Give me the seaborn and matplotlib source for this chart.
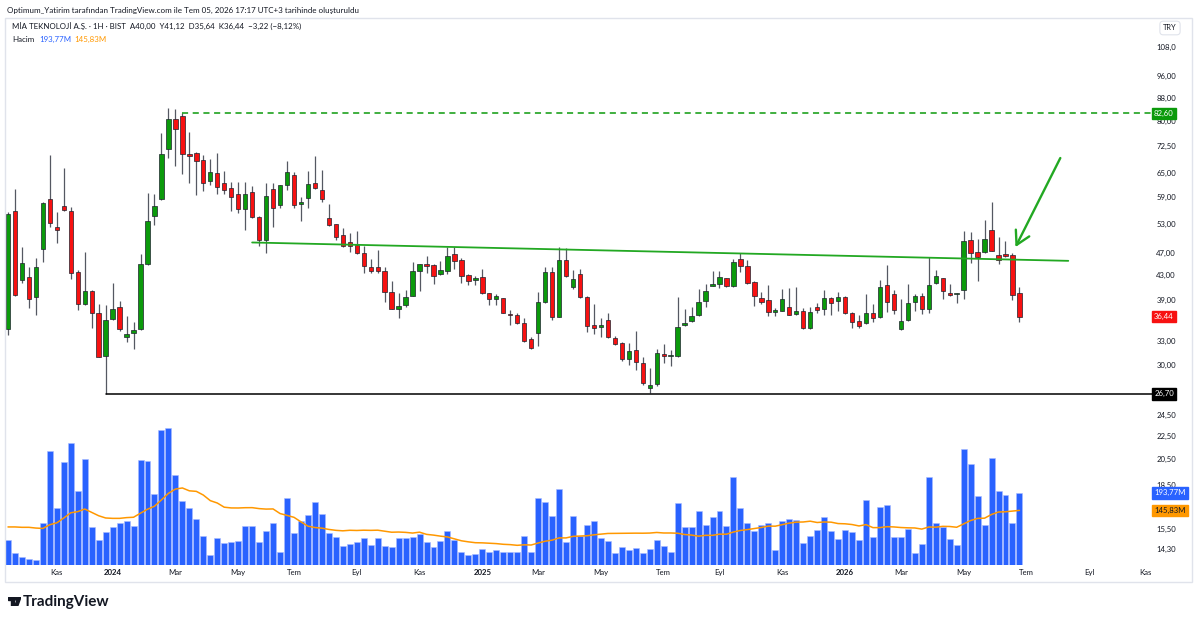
import numpy as np
import pandas as pd
import seaborn as sns
import matplotlib
matplotlib.use('Agg')
from matplotlib import pyplot as plt
import matplotlib.dates as mdates
import matplotlib.transforms as mtransforms
from matplotlib.ticker import NullLocator
from matplotlib.patches import FancyBboxPatch, Polygon, Circle

# weekly candles, MIA Teknoloji (BIST), from 2023-09-18
open_ = [34.70, 55.75, 42.22, 42.68, 39.37, 47.89, 58.43, 52.21, 56.88, 55.81,
         43.60, 38.28, 40.39, 37.01, 31.08, 36.04, 37.82, 33.56, 34.06, 34.66,
         45.08, 54.70, 58.57, 71.48, 80.85, 81.73, 70.22, 70.33, 68.46, 62.83,
         64.88, 62.48, 61.08, 59.69, 56.20, 60.10, 54.48, 49.66, 60.91, 57.04,
         61.83, 64.36, 57.27, 58.81, 62.33, 60.66, 54.19, 52.84, 50.61, 49.26,
         48.61, 47.13, 44.55, 44.45, 43.77, 40.23, 37.61, 38.12, 39.63, 43.77,
         44.98, 44.85, 43.20, 43.83, 46.88, 45.71, 43.08, 42.22, 42.79, 40.02,
         39.15, 39.21, 36.82, 36.67, 35.55, 33.24, 34.14, 38.69, 43.66, 36.42,
         45.76, 41.10, 43.25, 39.47, 35.26, 34.89, 35.94, 33.47, 32.71, 30.75,
         31.84, 30.19, 27.36, 27.74, 31.29, 31.08, 31.12, 35.18, 35.75, 36.67,
         38.84, 41.27, 41.50, 42.51, 41.21, 45.95, 44.73, 41.80, 39.31, 38.95,
         37.16, 37.31, 37.87, 36.78, 37.26, 34.84, 37.91, 37.56, 39.31, 38.79,
         39.47, 36.92, 35.75, 35.46, 36.92, 36.33, 41.38, 39.85, 34.62, 35.94,
         38.64, 39.63, 37.51, 41.66, 42.51, 39.90, 39.90, 40.55, 49.54, 47.32,
         47.32, 51.64, 46.64, 46.88, 46.69, 40.00]
high = [55.50, 60.84, 48.28, 44.55, 46.13, 57.80, 69.85, 55.59, 66.37, 56.72,
        43.90, 47.32, 40.60, 38.33, 38.17, 41.76, 38.75, 36.52, 35.65, 46.83,
        59.93, 59.62, 76.23, 84.30, 84.06, 82.60, 76.72, 70.60, 69.85, 68.66,
        70.33, 65.57, 62.73, 62.73, 62.73, 61.65, 54.70, 62.33, 62.48, 62.00,
        68.19, 65.30, 59.05, 65.57, 69.57, 65.75, 57.34, 53.00, 51.99, 50.96,
        51.43, 48.47, 45.89, 47.64, 44.44, 42.05, 40.12, 40.55, 45.45, 45.10,
        46.50, 45.00, 45.58, 48.28, 48.28, 46.19, 43.20, 42.90, 44.14, 40.10,
        39.90, 39.30, 37.41, 36.92, 36.27, 33.60, 40.28, 44.55, 44.55, 48.28,
        47.95, 43.95, 44.07, 39.60, 38.33, 36.18, 36.92, 33.69, 32.93, 32.80,
        34.38, 31.00, 29.65, 31.93, 32.62, 31.84, 39.47, 37.61, 37.91, 40.67,
        41.50, 43.77, 43.83, 42.60, 45.95, 47.01, 45.67, 42.00, 40.23, 41.38,
        37.67, 40.72, 40.83, 41.00, 37.67, 37.82, 38.53, 40.55, 39.40, 40.28,
        39.60, 37.16, 36.67, 39.90, 38.33, 42.22, 44.80, 40.55, 39.06, 41.55,
        39.90, 40.02, 46.26, 43.95, 42.60, 41.50, 40.10, 51.43, 51.29, 49.74,
        53.76, 57.73, 50.14, 49.46, 47.01, 41.12]
low = [33.83, 39.50, 41.76, 37.67, 36.67, 45.34, 52.21, 48.95, 55.70, 42.39,
       37.41, 38.10, 34.76, 30.90, 26.70, 35.90, 34.40, 32.85, 32.01, 34.50,
       44.90, 52.63, 58.30, 69.10, 66.74, 64.70, 62.48, 59.45, 60.49, 61.83,
       59.69, 59.69, 55.81, 55.37, 51.64, 54.10, 48.41, 47.13, 52.21, 56.36,
       60.66, 56.36, 53.61, 56.36, 60.90, 57.70, 52.40, 49.60, 48.30, 47.32,
       46.90, 43.37, 43.37, 43.37, 38.59, 37.50, 36.27, 37.82, 39.50, 40.39,
       43.48, 41.61, 43.00, 43.25, 44.14, 41.66, 41.38, 41.38, 39.90, 38.17,
       38.17, 36.90, 35.22, 35.40, 32.93, 31.93, 32.40, 38.50, 35.94, 36.30,
       42.70, 40.67, 39.30, 34.28, 33.92, 33.52, 33.40, 32.49, 30.50, 29.98,
       29.38, 27.70, 26.80, 27.55, 30.19, 29.90, 31.00, 35.08, 35.60, 36.50,
       37.82, 41.20, 40.83, 41.00, 41.10, 43.55, 41.50, 37.97, 38.28, 36.57,
       36.52, 37.20, 36.63, 36.70, 34.60, 34.70, 37.01, 36.67, 36.67, 37.31,
       36.80, 34.84, 34.76, 35.36, 35.69, 36.20, 37.16, 36.82, 34.50, 35.80,
       37.26, 36.82, 36.92, 41.50, 39.11, 39.60, 38.43, 39.06, 45.16, 42.10,
       47.13, 47.40, 45.03, 46.26, 38.95, 35.64]
close = [55.07, 39.74, 45.16, 39.11, 44.49, 57.57, 53.05, 51.70, 55.97, 43.48,
         38.28, 40.39, 36.92, 31.00, 35.94, 37.61, 34.62, 34.01, 34.52, 45.08,
         53.48, 56.81, 70.05, 80.85, 77.56, 70.05, 69.65, 68.10, 62.33, 65.22,
         61.48, 60.66, 59.05, 56.20, 59.62, 54.35, 49.66, 59.14, 56.36, 61.83,
         65.15, 57.11, 57.87, 62.15, 61.08, 58.43, 52.63, 50.14, 48.47, 48.41,
         47.13, 44.67, 43.83, 43.83, 40.18, 37.61, 37.97, 39.47, 43.77, 44.98,
         44.67, 42.96, 43.95, 46.50, 45.58, 42.86, 42.10, 42.61, 40.02, 39.11,
         39.53, 37.01, 36.63, 35.55, 33.06, 32.06, 38.69, 43.66, 36.42, 45.76,
         42.86, 42.39, 39.47, 35.08, 34.76, 35.26, 33.52, 32.62, 30.68, 31.71,
         30.38, 27.85, 27.66, 31.42, 31.12, 31.21, 34.98, 35.55, 36.48, 38.69,
         40.39, 41.38, 42.79, 41.27, 45.39, 44.67, 41.66, 39.53, 38.69, 37.07,
         37.26, 39.11, 36.71, 37.26, 34.76, 37.16, 37.41, 39.21, 38.53, 39.47,
         36.92, 35.69, 35.12, 36.92, 36.27, 41.00, 38.69, 37.41, 35.84, 38.43,
         39.58, 37.51, 41.33, 42.96, 40.39, 39.74, 40.02, 49.40, 47.01, 46.26,
         49.80, 47.51, 45.76, 46.56, 39.66, 36.44]
# volume in millions
volume = [68, 31, 22, 15, 13, 113, 306, 153, 275, 326,
          199, 284, 101, 67, 89, 101, 113, 117, 104, 282,
          279, 190, 363, 366, 242, 172, 153, 124, 78, 26,
          72, 59, 62, 64, 104, 104, 62, 91, 112, 36,
          179, 87, 119, 135, 170, 138, 85, 75, 52, 55,
          62, 73, 54, 73, 52, 47, 72, 73, 75, 84,
          61, 47, 64, 92, 66, 36, 28, 29, 44, 36,
          41, 36, 36, 36, 79, 36, 180, 169, 131, 205,
          61, 131, 79, 108, 117, 72, 65, 33, 49, 39,
          45, 33, 44, 68, 51, 36, 166, 101, 101, 146,
          108, 128, 144, 104, 236, 154, 112, 90, 106, 112,
          41, 117, 124, 121, 59, 79, 95, 129, 91, 71,
          95, 89, 68, 175, 75, 156, 162, 75, 75, 96,
          33, 57, 236, 112, 103, 71, 54, 311, 270, 184,
          108, 288, 199, 188, 112, 193.77]
# 20-week volume average for the first weeks (history before the window)
vol_ma_head = [102, 102, 101, 101, 99, 98, 108, 113, 126, 140,
               143, 150, 141, 132, 126, 125, 125, 127, 128]

tick_dates = ['2023-11-06', '2024-01-01', '2024-03-04', '2024-05-06', '2024-07-01',
              '2024-09-02', '2024-11-04', '2025-01-06', '2025-03-03', '2025-05-05',
              '2025-07-07', '2025-09-01', '2025-11-03', '2026-01-05', '2026-03-02',
              '2026-05-04', '2026-07-06', '2026-09-07', '2026-11-02']
tick_labels = ['Kas', '2024', 'Mar', 'May', 'Tem', 'Eyl', 'Kas', '2025', 'Mar', 'May',
               'Tem', 'Eyl', 'Kas', '2026', 'Mar', 'May', 'Tem', 'Eyl', 'Kas']
price_ticks = [108, 96, 88, 80, 72.5, 65, 59, 53, 47, 43, 39, 33, 30,
               24.5, 22.5, 20.5, 18.5, 15.5, 14.3]
price_tick_labels = ['108,0', '96,00', '88,00', '80,00', '72,50', '65,00', '59,00',
                     '53,00', '47,00', '43,00', '39,00', '33,00', '30,00', '24,50',
                     '22,50', '20,50', '18,50', '15,50', '14,30']

resistance = 82.60
support = 26.70
trend_start = ('2024-05-20', 49.1)
trend_end = ('2026-08-17', 45.6)
arrow_tail = ('2026-08-09', 69.0)
arrow_tip = ('2026-06-25', 48.2)

sns.set_theme(style='white')
plt.rcParams['font.family'] = ['Lato', 'DejaVu Sans']

GREEN = '#0b9a0b'
RED = '#f71111'
LINE_GREEN = '#22a822'
TXT = '#131722'

dates = pd.date_range('2023-09-18', periods=len(close), freq='7D')
df = pd.DataFrame({'open': open_, 'high': high, 'low': low, 'close': close,
                   'volume': volume}, index=dates)
df['ma'] = df['volume'].rolling(20).mean()
df.loc[df.index[:len(vol_ma_head)], 'ma'] = vol_ma_head

W, H = 1200, 622
fig = plt.figure(figsize=(12, 6.22), dpi=100)


def fx(px):
    return px / W


def fy(py):
    return 1 - py / H


ax = fig.add_axes([fx(5), fy(565), fx(1148) - fx(5), fy(18) - fy(565)])
ax2 = ax.twinx()
ax.set_zorder(ax2.get_zorder() + 1)
ax.patch.set_visible(False)

# volume pane (overlay)
ax2.bar(df.index, df['volume'], width=6.0, color='#2962ff', edgecolor='#a9bcff',
        linewidth=0.4, zorder=1)
sns.lineplot(x=df.index, y=df['ma'], ax=ax2, color='#ff9800', linewidth=1.1, zorder=2)
ax2.set_ylim(0, 1466)
ax2.set_yticks([])
ax2.set_ylabel('')
ax2.set_xlabel('')

# candles
ax.set_yscale('log')
up = df['close'] >= df['open']
colors = np.where(up, GREEN, RED)
body_lo = np.minimum(df['open'], df['close'])
body_h = np.maximum((df['close'] - df['open']).abs(), body_lo * 0.006)
ax.vlines(df.index, df['low'], df['high'], colors='#555862', linewidth=0.9, zorder=2)
ax.bar(df.index, body_h, bottom=body_lo, width=4.4, color=colors,
       edgecolor='#1e222d', linewidth=0.5, zorder=3)

xmin = pd.Timestamp('2023-09-15')
xmax = pd.Timestamp('2026-11-05')
ext = xmax + pd.Timedelta(days=4)

# drawings
ax.plot([df.index[25], ext], [resistance, resistance], color=GREEN, lw=1.1,
        ls=(0, (4, 3)), clip_on=False, zorder=4)
ax.plot([df.index[14], ext], [support, support], color='black', lw=1.1,
        clip_on=False, zorder=4)
ax.plot(pd.to_datetime([trend_start[0], trend_end[0]]), [trend_start[1], trend_end[1]],
        color=LINE_GREEN, lw=1.3, zorder=4)
ax.annotate('', xy=(mdates.date2num(pd.Timestamp(arrow_tip[0])), arrow_tip[1]),
            xytext=(mdates.date2num(pd.Timestamp(arrow_tail[0])), arrow_tail[1]),
            arrowprops=dict(arrowstyle='->,head_length=0.8,head_width=0.45',
                            color=LINE_GREEN, lw=1.7, shrinkA=0, shrinkB=0), zorder=5)

ax.set_xlim(xmin, xmax)
ax.set_ylim(13.39, 121.3)
for a in (ax, ax2):
    for s in a.spines.values():
        s.set_visible(False)
    a.grid(False)

ax.set_xticks(pd.to_datetime(tick_dates))
ax.set_xticklabels(tick_labels)
ax.tick_params(axis='x', length=0, pad=3.2, labelsize=5.6, labelcolor=TXT)
for t in ax.get_xticklabels():
    if t.get_text().isdigit():
        t.set_fontweight('bold')

ax.yaxis.tick_right()
ax.set_yticks(price_ticks)
ax.set_yticklabels(price_tick_labels)
ax.yaxis.set_minor_locator(NullLocator())
ax.tick_params(axis='y', length=0, pad=6.0, labelsize=5.6, labelcolor=TXT)


def scale_label(value, text, face, fg='white', trans=None):
    tr = trans if trans is not None else ax.get_yaxis_transform()
    ax.annotate(text, xy=(1, value), xycoords=tr, xytext=(4.4, 0),
                textcoords='offset points', ha='left', va='center', fontsize=5.6,
                color=fg, bbox=dict(boxstyle='square,pad=0.3', fc=face, ec=face),
                annotation_clip=False, zorder=10)


vol_tr = mtransforms.blended_transform_factory(ax.transAxes, ax2.transData)
scale_label(resistance, '82,60', GREEN)
scale_label(close[-1], '36,44', RED)
scale_label(support, '26,70', 'black')
scale_label(volume[-1], '193,77M', '#2962ff', trans=vol_tr)
scale_label(df['ma'].iloc[-1], '145,83M', '#ff9800', fg=TXT, trans=vol_tr)

# frame and header
fig.patches.append(FancyBboxPatch((fx(5), fy(582)), fx(1192) - fx(5), fy(18) - fy(582),
                                  boxstyle='square,pad=0', transform=fig.transFigure,
                                  fill=False, ec='#e0e3eb', lw=1))
fig.text(fx(1170), fy(28), 'TRY', ha='center', va='center', fontsize=5.3, color=TXT,
         bbox=dict(boxstyle='round,pad=0.45', fc='white', ec='#e0e3eb', lw=0.8))
fig.text(fx(7), fy(10), 'Optimum_Yatirim tarafından TradingView.com ile Tem 05, 2026 '
         '17:17 UTC+3 tarihinde oluşturuldu', fontsize=5.8, va='center', color=TXT)
fig.text(fx(12), fy(27.3), 'MİA TEKNOLOJİ A.Ş. · 1H · BIST  A40,00  Y41,12  D35,64  '
         'K36,44  −3,22 (−8,12%)', fontsize=5.7, va='center', color=TXT)
fig.text(fx(12), fy(39), 'Hacim', fontsize=5.7, va='center', color=TXT)
fig.text(fx(39), fy(39), '193,77M', fontsize=5.7, va='center', color='#2962ff')
fig.text(fx(74), fy(39), '145,83M', fontsize=5.7, va='center', color='#ff9800')

# TradingView logo
logo = fig.add_axes([fx(8), fy(606), fx(21) - fx(8), fy(597) - fy(606)])
logo.set_xlim(0, 20)
logo.set_ylim(0, 14)
logo.axis('off')
logo.add_patch(Polygon([(0, 14), (9, 14), (9, 0), (5, 0), (5, 10), (0, 10)], color=TXT))
logo.add_patch(Circle((12.3, 11.6), 2.3, color=TXT))
logo.add_patch(Polygon([(10.5, 0), (15.5, 14), (20, 14), (15, 0)], color=TXT))
fig.text(fx(23), fy(602), 'TradingView', fontsize=11, fontweight='bold', va='center',
         color=TXT)

fig.savefig('out.png', dpi=100, facecolor='white')
